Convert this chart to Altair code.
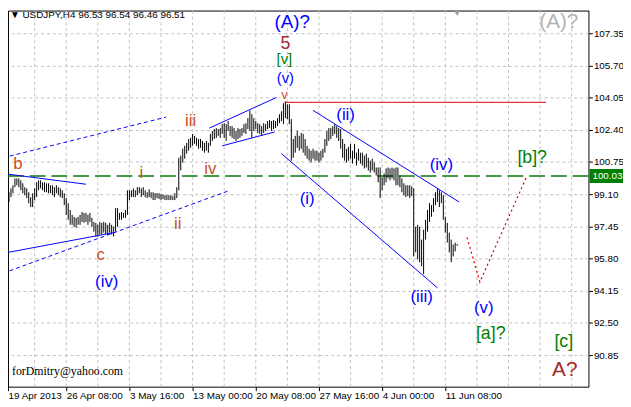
import json
import altair as alt
import pandas as pd

# ---------------- data ----------------
HIGHS = [98.80, 98.70, 98.95, 99.20, 99.40, 99.56, 99.91, 99.91, 99.91, 99.81,
         99.66, 99.46, 99.40, 99.20, 98.95, 99.15, 99.40, 99.71, 99.81, 99.81,
         99.71, 99.71, 99.66, 99.66, 99.56, 99.56, 99.46, 99.56, 99.46, 99.40,
         99.30, 99.15, 98.90, 98.64, 98.29, 98.04, 97.94, 97.89, 97.94, 98.04,
         98.19, 98.14, 98.14, 98.04, 98.14, 97.89, 97.68, 97.63, 97.53, 97.68,
         97.63, 97.68, 97.63, 97.53, 97.63, 97.53, 97.43, 98.39, 98.39, 98.14,
         98.19, 98.14, 98.29, 99.30, 99.30, 99.30, 99.40, 99.30, 99.46, 99.46,
         99.40, 99.46, 99.30, 99.20, 99.35, 99.20, 99.20, 99.15, 99.15, 99.15,
         99.10, 99.10, 99.05, 99.05, 99.05, 99.05, 99.00, 99.15, 99.46, 100.97,
         101.08, 101.43, 101.58, 101.73, 101.93, 101.99, 102.19, 102.09, 101.99, 101.93,
         101.93, 101.83, 101.73, 101.83, 101.73, 102.19, 102.34, 102.44, 102.49, 102.44,
         102.49, 102.69, 102.74, 102.69, 102.85, 102.59, 102.59, 102.49, 102.34, 102.49,
         102.44, 102.49, 102.69, 102.74, 103.00, 103.40, 103.20, 103.00, 102.85, 102.74,
         102.69, 102.59, 102.74, 102.69, 102.85, 102.90, 102.85, 102.90, 102.85, 103.00,
         103.20, 103.35, 103.76, 103.86, 103.71, 103.71, 102.95, 101.93, 102.09, 102.34,
         102.09, 102.24, 102.19, 101.93, 101.58, 101.43, 101.33, 101.43, 101.33, 101.33,
         101.23, 101.33, 101.43, 101.93, 102.34, 102.49, 102.49, 102.59, 102.69, 102.59,
         102.49, 102.44, 101.93, 101.68, 101.43, 101.53, 101.68, 101.33, 101.68, 101.23,
         101.43, 101.23, 101.23, 101.08, 101.18, 100.97, 100.82, 100.92, 100.72, 100.47,
         100.47, 100.47, 99.96, 100.16, 100.42, 100.47, 100.42, 100.47, 100.42, 100.47,
         100.47, 100.06, 99.91, 99.66, 99.56, 99.56, 99.56, 99.50, 99.40, 97.43,
         97.53, 97.43, 96.77, 97.28, 97.79, 98.29, 98.64, 98.54, 98.90, 99.20,
         99.40, 99.30, 99.20, 99.05, 97.94, 97.63, 97.13, 96.77, 96.52, 96.62,
         96.54]
LOWS = [98.19, 98.14, 98.44, 98.70, 98.95, 99.15, 99.46, 99.56, 99.46, 99.30,
        99.15, 99.05, 98.90, 98.64, 98.44, 98.44, 98.80, 98.95, 99.30, 99.40,
        99.30, 99.20, 99.20, 99.15, 99.15, 99.05, 98.95, 99.15, 99.05, 98.95,
        98.90, 98.54, 98.04, 97.79, 97.53, 97.53, 97.43, 97.38, 97.53, 97.53,
        97.68, 97.63, 97.68, 97.53, 97.68, 97.43, 97.18, 96.93, 96.93, 97.03,
        97.03, 97.13, 97.03, 97.03, 97.13, 97.03, 96.93, 97.18, 97.43, 97.79,
        97.79, 97.89, 97.89, 98.04, 98.80, 98.95, 98.95, 98.95, 99.05, 99.15,
        98.95, 99.05, 98.95, 98.90, 98.95, 98.90, 98.80, 98.80, 98.90, 98.85,
        98.80, 98.85, 98.80, 98.80, 98.80, 98.80, 98.80, 98.80, 98.90, 99.30,
        100.32, 100.72, 100.92, 101.18, 101.33, 101.48, 101.58, 101.68, 101.58, 101.43,
        101.48, 101.33, 101.23, 101.33, 101.23, 101.58, 101.83, 101.93, 101.99, 102.09,
        101.99, 102.19, 101.99, 101.83, 102.34, 102.09, 101.99, 101.93, 101.83, 101.93,
        101.99, 102.09, 102.24, 102.19, 102.44, 102.34, 101.99, 102.34, 102.44, 102.24,
        102.19, 102.09, 102.24, 102.34, 102.44, 102.49, 102.34, 102.44, 102.49, 102.59,
        102.74, 102.85, 102.69, 103.00, 102.95, 102.69, 100.82, 100.97, 101.23, 101.48,
        101.33, 101.43, 101.23, 101.08, 100.92, 100.82, 100.72, 100.92, 100.82, 100.82,
        100.72, 100.82, 100.97, 101.23, 101.58, 101.83, 101.93, 102.09, 102.19, 101.99,
        101.83, 101.43, 100.97, 100.82, 100.72, 100.82, 100.92, 100.67, 100.92, 100.57,
        100.82, 100.67, 100.57, 100.42, 100.47, 100.32, 100.21, 100.32, 100.21, 100.06,
        99.71, 98.90, 99.30, 99.56, 99.71, 99.91, 99.81, 99.91, 99.81, 99.56,
        99.56, 99.46, 99.20, 99.05, 98.95, 99.00, 98.90, 99.00, 95.91, 96.12,
        95.76, 95.61, 95.41, 95.00, 96.77, 97.18, 97.68, 97.94, 98.19, 98.54,
        98.70, 98.44, 98.64, 97.79, 97.13, 96.62, 96.12, 95.61, 95.91, 96.17,
        96.46]

X_TICK_IDX = [0, 32, 64, 96, 128, 160, 192, 224]
X_TICK_LABELS = ["19 Apr 2013", "26 Apr 08:00", "3 May 16:00", "13 May 00:00",
                 "20 May 08:00", "27 May 16:00", "4 Jun 00:00", "11 Jun 08:00"]
X_GRID_IDX = [16, 32, 48, 64, 80, 96, 112, 128, 144, 160, 176, 192, 208, 224,
              240, 256, 272, 288]
Y_TICKS = [90.85, 92.50, 94.15, 95.80, 97.45, 99.10, 100.75, 102.40, 104.05,
           105.70, 107.35]
LEVEL = 100.03
LAST_BAR = 230
HEADER = "\u25bc USDJPY,H4  96.53 96.54 96.46 96.51"
EMAIL = "forDmitry@yahoo.com"

# wave labels: (text, bar index, price)
BLUE_TXT = ["(iv)", "(i)", "(ii)", "(iv)", "(iii)", "(v)"]
BLUE_I = [52.5, 154, 173.5, 222, 212, 243.5]
BLUE_P = [94.60, 98.85, 103.15, 100.57, 93.84, 93.28]

TOP_BLUE_TXT = ["(v)"]
TOP_BLUE_I = [143]
TOP_BLUE_P = [105.06]

ORANGE_TXT = ["iii", "b", "i", "iv", "ii", "c"]
ORANGE_I = [95, 7.5, 70, 105, 88.5, 49.5]
ORANGE_P = [102.85, 100.67, 100.16, 100.37, 97.58, 95.96]

TOP_ORANGE_TXT = ["v"]
TOP_ORANGE_I = [142.5]
TOP_ORANGE_P = [104.16]

GREEN_TXT = ["[b]?", "[a]?", "[c]"]
GREEN_I = [268, 247, 284]
GREEN_P = [100.97, 91.92, 91.51]

TOP_GREEN_TXT = ["[v]"]
TOP_GREEN_I = [142.5]
TOP_GREEN_P = [106.02]

BROWN_TOP_TXT = ["5"]
BROWN_TOP_I = [143]
BROWN_TOP_P = [106.80]

BROWN_TXT = ["A?"]
BROWN_I = [284.5]
BROWN_P = [90.09]

BIGBLUE_TXT = ["(A)?"]
BIGBLUE_I = [146.5]
BIGBLUE_P = [107.93]

GRAY_TXT = ["(A)?"]
GRAY_I = [281.5]
GRAY_P = [107.92]

# trend lines: segment id, bar index, price
BLUE_SOLID_SEG = ["a", "a", "b", "b", "c", "c", "d", "d", "e", "e", "f", "f"]
BLUE_SOLID_I = [0, 42, 0, 56, 104.5, 138.5, 111, 137.5, 157, 231, 141, 220]
BLUE_SOLID_P = [100.16, 99.61, 96.07, 97.13, 102.49, 104.06, 101.58, 102.29,
                103.40, 98.70, 101.18, 94.30]

BLUE_DOT_SEG = ["a", "a", "b", "b"]
BLUE_DOT_I = [0, 115, 0, 82.5]
BLUE_DOT_P = [95.05, 99.30, 100.97, 103.05]

RED_I = [142.5, 275]
RED_P = [103.81, 103.81]

RED_DOT_I = [235, 241.5, 265]
RED_DOT_P = [96.88, 94.60, 99.96]

# ---------------- chart ----------------
X_MIN, X_MAX = 2.5, 296.5
Y_MIN, Y_MAX = 89.233, 108.514
FONT = "Liberation Sans"

xs = alt.Scale(domain=[X_MIN, X_MAX], nice=False, zero=False)
ys = alt.Scale(domain=[Y_MIN, Y_MAX], nice=False, zero=False)

axis_vals = [max(v, X_MIN) for v in X_TICK_IDX]
label_expr = f"{json.dumps(X_TICK_LABELS)}[round(datum.value / 32)]"

x_axis = alt.Axis(values=axis_vals, labelExpr=label_expr, title=None, grid=False,
                  domain=False, ticks=True, tickSize=4, tickColor="black",
                  labelColor="black", labelFont=FONT, labelFontSize=10,
                  labelAlign="left", labelBaseline="top", labelPadding=0,
                  labelFlush=False, labelOverlap=False, labelBound=False)
y_axis = alt.Axis(orient="right", values=Y_TICKS, format=".2f", title=None,
                  grid=True, gridDash=[3, 3], gridColor="#c0c0c0", gridWidth=1,
                  domain=False, ticks=True, tickSize=4, tickColor="black",
                  labelColor="black", labelFont=FONT, labelFontSize=10,
                  labelPadding=1, labelFlush=False, labelOverlap=False, labelBound=False)


def X(f):
    return alt.X(f"{f}:Q", scale=xs, axis=x_axis, title=None)


def Y(f):
    return alt.Y(f"{f}:Q", scale=ys, axis=y_axis, title=None)


bars = pd.DataFrame({"i": list(range(len(HIGHS))), "high": HIGHS, "low": LOWS})

grid_layer = alt.Chart(pd.DataFrame({"i": X_GRID_IDX})).mark_rule(
    color="#c0c0c0", strokeDash=[3, 3], strokeWidth=1).encode(x=X("i"))

level_df = pd.DataFrame({"p": [LEVEL]})
level_layer = alt.Chart(level_df).mark_rule(
    color="#0a7a0a", strokeDash=[16, 6], strokeWidth=1.5).encode(y=Y("p"))

bar_layer = alt.Chart(bars).mark_rule(color="black", strokeWidth=1, clip=True).encode(
    x=X("i"), y=Y("low"), y2="high:Q")


def seg_layer(seg, idx, price, color, dash=None, width=1.0):
    df = pd.DataFrame({"s": seg, "i": idx, "p": price})
    kw = dict(color=color, strokeWidth=width, clip=True)
    if dash:
        kw["strokeDash"] = dash
    return alt.Chart(df).mark_line(**kw).encode(
        x=X("i"), y=Y("p"), detail="s:N", order="i:Q")


blue_solid = seg_layer(BLUE_SOLID_SEG, BLUE_SOLID_I, BLUE_SOLID_P, "#0000ff")
blue_dot = seg_layer(BLUE_DOT_SEG, BLUE_DOT_I, BLUE_DOT_P, "#0000ff", dash=[4, 3])
red_line = seg_layer(["r", "r"], RED_I, RED_P, "#e00000")
red_dot = seg_layer(["d"] * 3, RED_DOT_I, RED_DOT_P, "#ff0000", dash=[2, 3], width=1.3)


def text_layer(txt, idx, price, color, size):
    df = pd.DataFrame({"t": txt, "i": idx, "p": price})
    return alt.Chart(df).mark_text(font=FONT, fontSize=size, color=color,
                                   align="center", baseline="middle").encode(
        x=X("i"), y=Y("p"), text="t:N")


t_blue = text_layer(BLUE_TXT, BLUE_I, BLUE_P, "#0000ff", 17)
t_blue_top = text_layer(TOP_BLUE_TXT, TOP_BLUE_I, TOP_BLUE_P, "#0000ff", 15)
t_orange = text_layer(ORANGE_TXT, ORANGE_I, ORANGE_P, "#c8501e", 17)
t_orange_top = text_layer(TOP_ORANGE_TXT, TOP_ORANGE_I, TOP_ORANGE_P, "#c8501e", 13)
t_green = text_layer(GREEN_TXT, GREEN_I, GREEN_P, "#008000", 18)
t_green_top = text_layer(TOP_GREEN_TXT, TOP_GREEN_I, TOP_GREEN_P, "#008000", 15)
t_brown_top = text_layer(BROWN_TOP_TXT, BROWN_TOP_I, BROWN_TOP_P, "#a52a2a", 18)
t_brown = text_layer(BROWN_TXT, BROWN_I, BROWN_P, "#a52a2a", 21)
t_bigblue = text_layer(BIGBLUE_TXT, BIGBLUE_I, BIGBLUE_P, "#0000ff", 19)
t_gray = text_layer(GRAY_TXT, GRAY_I, GRAY_P, "#b4b4b4", 21)

box_df = pd.DataFrame({"top": [LEVEL + 0.36], "bot": [LEVEL - 0.36],
                       "p": [LEVEL], "lab": [f"{LEVEL:.2f}"]})
box = alt.Chart(box_df).mark_rect(color="#008000").encode(
    x=alt.value(589), x2=alt.value(623), y=Y("top"), y2="bot:Q")
box_text = alt.Chart(box_df).mark_text(font=FONT, fontSize=10, color="white",
                                       align="left", baseline="middle").encode(
    x=alt.value(592), y=Y("p"), text="lab:N")

header = alt.Chart(pd.DataFrame({"t": [HEADER]})).mark_text(
    font=FONT, fontSize=10, color="black", align="left", baseline="middle").encode(
    x=alt.value(2), y=alt.value(5), text="t:N")
email = alt.Chart(pd.DataFrame({"t": [EMAIL]})).mark_text(
    font="Liberation Serif", fontSize=12, color="black", align="left",
    baseline="middle").encode(x=alt.value(4), y=alt.value(365), text="t:N")
marker = alt.Chart(pd.DataFrame({"i": [LAST_BAR]})).mark_point(
    shape="triangle-down", filled=True, color="#a0a0a0", opacity=1, size=35).encode(
    x=X("i"), y=alt.value(3))

chart = alt.layer(
    grid_layer, level_layer, bar_layer, blue_solid, blue_dot, red_line, red_dot,
    t_blue, t_blue_top, t_orange, t_orange_top, t_green, t_green_top,
    t_brown_top, t_brown, t_bigblue, t_gray,
    box, box_text, header, email, marker,
).properties(
    width=588, height=381,
    padding={"left": 0, "top": 0, "right": 35, "bottom": 18},
    autosize=alt.AutoSizeParams(type="none"),
    background="white",
).configure_view(stroke="black", strokeWidth=1)

chart.save("out.html", embed_options={"renderer": "svg", "actions": False})
